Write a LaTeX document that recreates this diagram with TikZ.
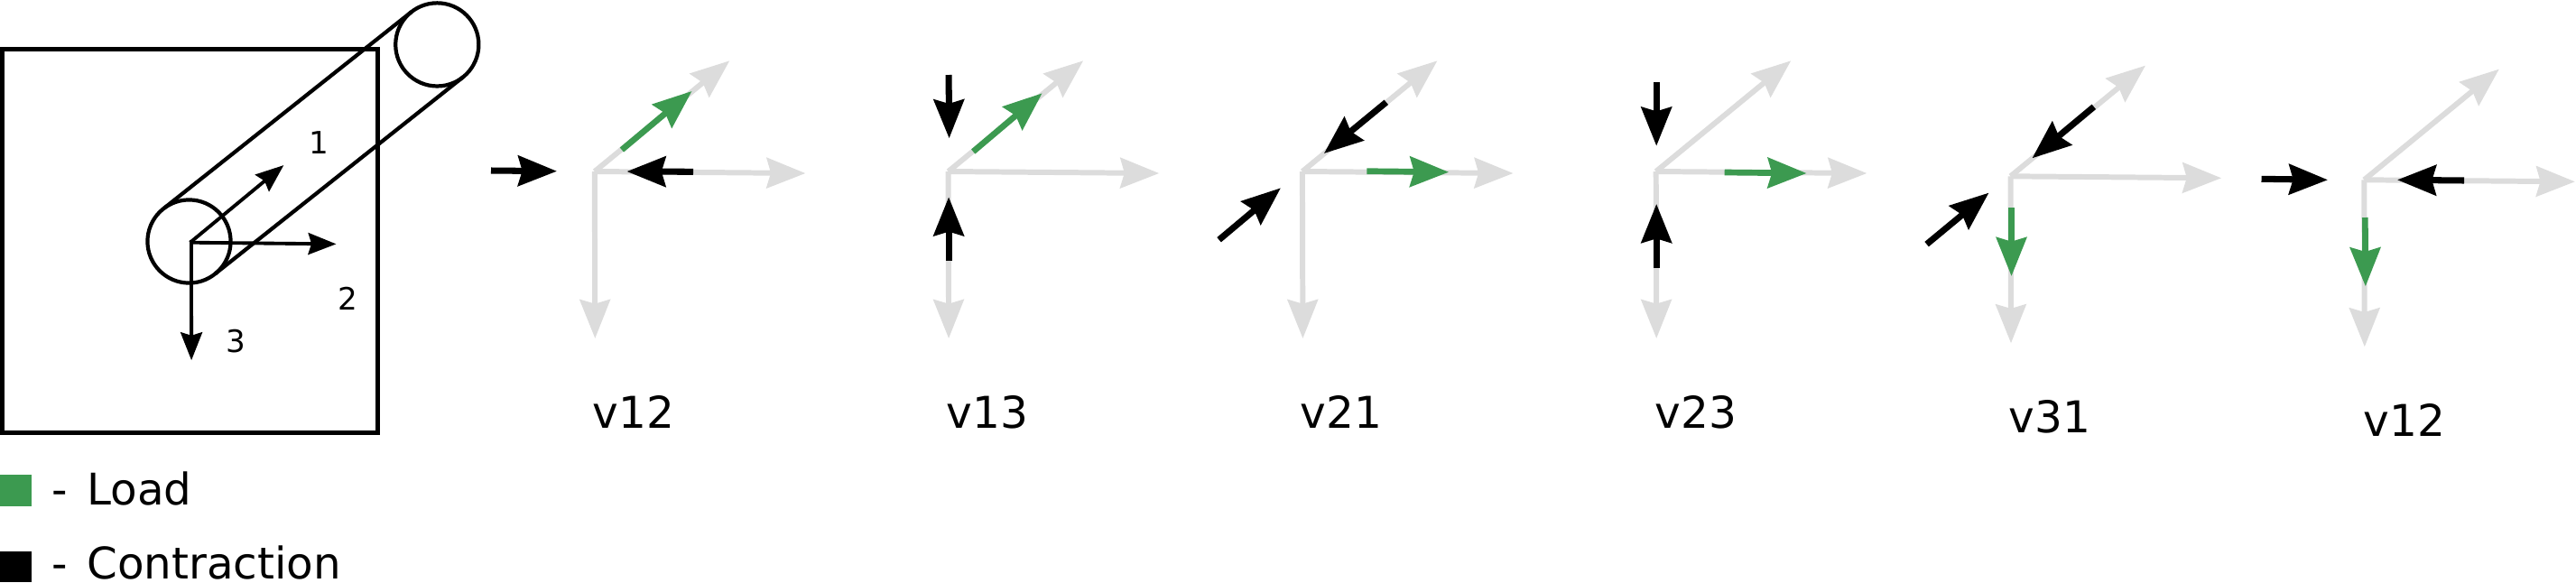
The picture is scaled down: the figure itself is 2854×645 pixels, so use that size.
\documentclass[tikz,border=0pt]{standalone}
\usepackage{fontspec}
\setmainfont{DejaVu Sans}
\usetikzlibrary{arrows.meta}
\definecolor{loadgreen}{HTML}{3C9A50}
\definecolor{axisgray}{HTML}{DCDCDC}
\tikzset{
  bigtip/.style={-{Stealth[length=12.2pt,width=9.5pt,inset=1.3pt]}},
  smalltip/.style={-{Stealth[length=8.8pt,width=6.8pt,inset=1.0pt]}},
  axisarrow/.style={bigtip,draw=axisgray,line width=1.7pt},
  loadarrow/.style={bigtip,draw=loadgreen,line width=1.9pt},
  contrarrow/.style={bigtip,draw=black,line width=2.0pt},
  specarrow/.style={smalltip,draw=black,line width=1.1pt},
  outline/.style={draw=black,line width=1.4pt},
  tube/.style={circle,draw=black,line width=1.2pt,minimum size=26.2pt,inner sep=0pt,outer sep=0pt},
  tubeline/.style={draw=black,line width=1.2pt},
  biglabel/.style={anchor=base,inner sep=0pt,font=\fontsize{13.8pt}{16pt}\selectfont},
  numlabel/.style={anchor=base,inner sep=0pt,font=\fontsize{9.7pt}{12pt}\selectfont},
  legendtext/.style={anchor=base west,inner sep=0pt,font=\fontsize{13.75pt}{16pt}\selectfont},
}
% \conn{style}{name}{start}{tip}
\newcommand{\conn}[4]{%
  \coordinate (#2-s) at (#3);
  \coordinate (#2-t) at (#4);
  \draw[#1] (#2-s) -- (#2-t);
}
% grey axes of one panel
\newcommand{\axes}[1]{%
  \coordinate (#1-o) at (0,0);
  \coordinate (#1-d) at (149.5,-122.7);
  \coordinate (#1-r) at (233.6,2);
  \coordinate (#1-b) at (0.5,185);
  \draw[axisarrow] (#1-o) -- (#1-d);
  \draw[axisarrow] (#1-o) -- (#1-r);
  \draw[axisarrow] (#1-o) -- (#1-b);
}
\begin{document}
\begin{tikzpicture}[x=0.01cm,y=-0.01cm]
\useasboundingbox (0,0) rectangle (2854,645);

% specimen
\coordinate (boxa) at (2.5,54.3);
\coordinate (boxb) at (418.6,479.8);
\draw[outline] (boxa) rectangle (boxb);
\node[tube] (c1) at (209.5,267.5) {};
\node[tube] (c2) at (484.3,49.4) {};
\draw[tubeline] (c1.128.5) -- (c2.128.5);
\draw[tubeline] (c1.-51.5) -- (c2.-51.5);
\conn{specarrow}{s1}{210.7,268.7}{314.3,183.1}
\conn{specarrow}{s2}{210.7,268.7}{372.5,270.4}
\conn{specarrow}{s3}{212,266}{212.1,399.2}
\node[numlabel] (n1) at (353.6,170) {1};
\node[numlabel] (n2) at (385.7,343) {2};
\node[numlabel] (n3) at (261.8,390) {3};

% legend
\fill[loadgreen] (0,526) rectangle (35,560.5);
\fill[black] (0,610.7) rectangle (35,645);
\node[legendtext] (l1) at (56.5,559) {-\hspace{1.8pt} Load};
\node[legendtext] (l2) at (56.5,641) {-\hspace{1.8pt} Contraction};

% v12
\begin{scope}[shift={(658.8,190)}]
\axes{a}
\conn{contrarrow}{a1}{-114.8,-1}{-41.8,-0.3}
\conn{contrarrow}{a2}{109.2,0.3}{35.7,0}
\conn{loadarrow}{a3}{30.1,-24}{107.7,-89}
\end{scope}
\node[biglabel] (va) at (702,474) {v12};

% v13
\begin{scope}[shift={(1050.6,190)}]
\axes{b}
\conn{contrarrow}{b1}{0.5,-107}{1,-36.7}
\conn{contrarrow}{b2}{0.5,98.7}{0.5,28.3}
\conn{loadarrow}{b3}{27.6,-22}{104,-86.7}
\end{scope}
\node[biglabel] (vb) at (1094,474) {v13};

% v21
\begin{scope}[shift={(1442.9,190)}]
\axes{c}
\conn{contrarrow}{c1}{92.9,-76.7}{24,-20}
\conn{contrarrow}{c2}{-92.3,75.7}{-24,18.3}
\conn{loadarrow}{c3}{71.4,-0.3}{162.2,0.7}
\end{scope}
\node[biglabel] (vc) at (1486,474) {v21};

% v23
\begin{scope}[shift={(1834.7,190)}]
\axes{d}
\conn{contrarrow}{d1}{0.5,-99}{0.5,-28.3}
\conn{contrarrow}{d2}{0.5,106.7}{0.5,36}
\conn{loadarrow}{d3}{76,1}{166.8,2}
\end{scope}
\node[biglabel] (vd) at (1879,474) {v23};

% v31
\begin{scope}[shift={(2227.5,195.3)}]
\axes{e}
\conn{contrarrow}{e1}{92.3,-77}{24,-20}
\conn{contrarrow}{e2}{-92.9,75.3}{-24,18.3}
\conn{loadarrow}{e3}{1,34.7}{1,110.7}
\end{scope}
\node[biglabel] (ve) at (2271,479) {v31};

% v12 (second)
\begin{scope}[shift={(2619.3,199.3)}]
\axes{f}
\conn{contrarrow}{f1}{-113.8,-1}{-40.3,0}
\conn{contrarrow}{f2}{110.7,0.7}{36.7,0}
\conn{loadarrow}{f3}{1,41.7}{1.5,118}
\end{scope}
\node[biglabel] (vf) at (2664,483) {v12};
\end{tikzpicture}
\end{document}
